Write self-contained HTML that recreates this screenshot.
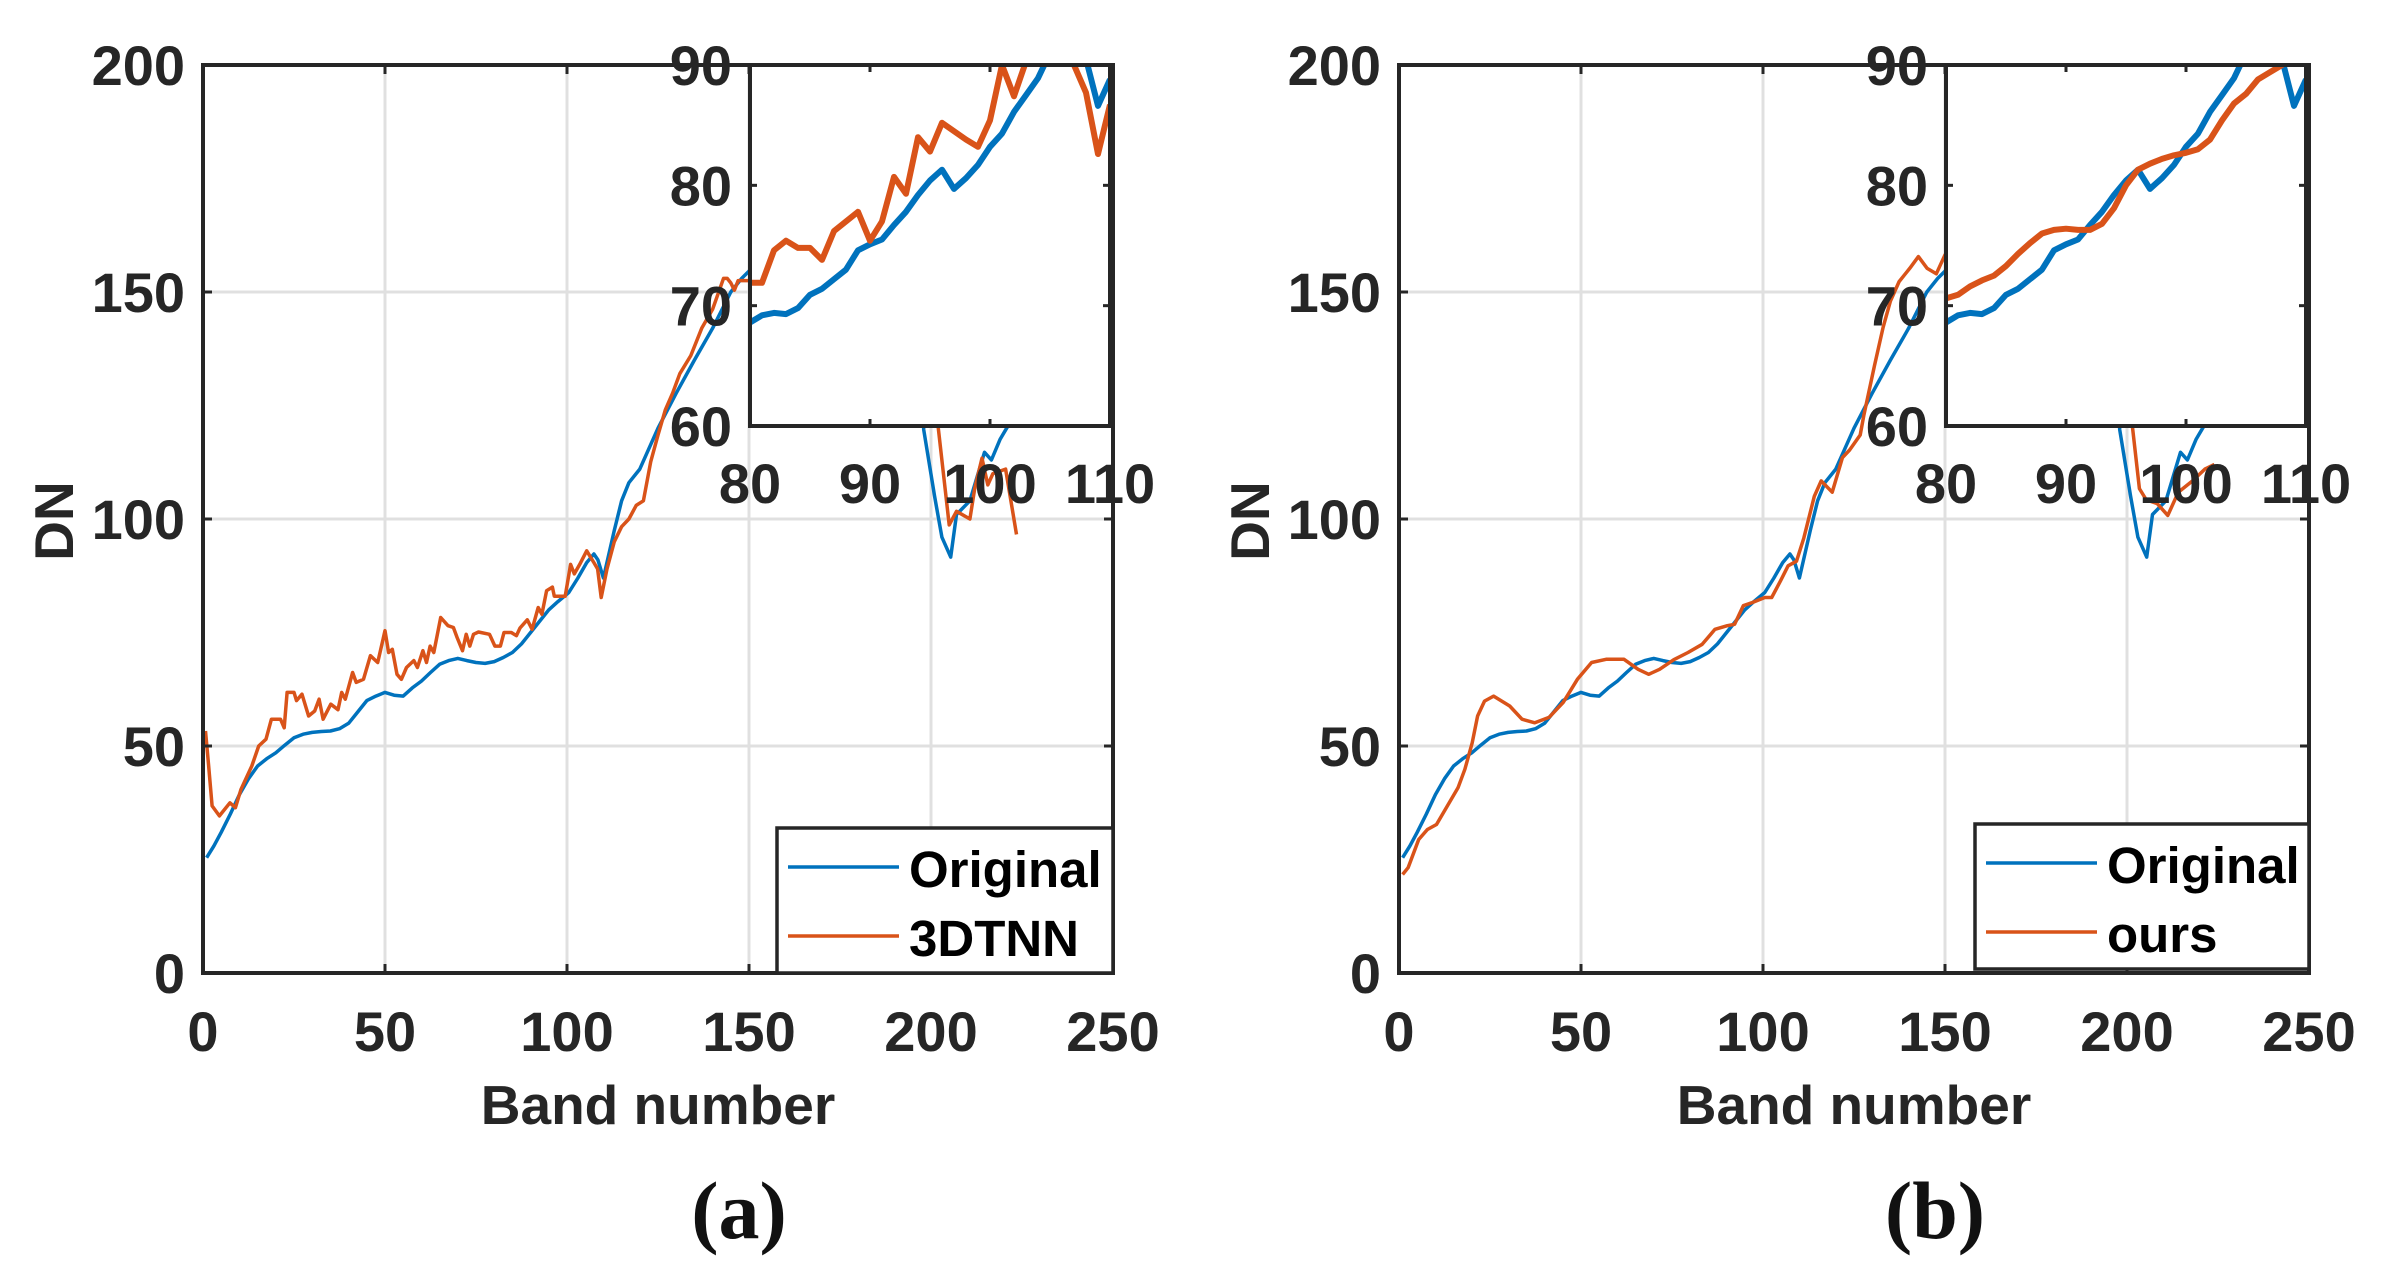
<!DOCTYPE html>
<html><head><meta charset="utf-8">
<style>
html,body{margin:0;padding:0;background:#fff;}
svg{display:block;}
text{font-family:"Liberation Sans",Arial,sans-serif;font-weight:bold;}
</style></head>
<body>
<svg id="fig" width="2384" height="1272" viewBox="0 0 2384 1272" xmlns="http://www.w3.org/2000/svg"></svg>
<script>
// ---- data ----
const origBands = [1,3,5,7.5,10,12.5,15,17.5,20,22.5,25,27.5,30,32.5,35,37.5,40,42.5,45,47.5,50,52.5,55,57.5,60,62.5,65,67.5,70,72.5,75,77.5,80,82.5,85,87.5,90,92.5,95,97.5,100.5,103,105.4,107.4,108.5,110,113,115,117,120,125,130,135,140,145,148,150,160,170,180,190,196,198,201,203,205.4,207,210.7,214.7,216.6,219,221.5,224];
const origVals  = [25.4,28,31,35,39.3,42.8,45.6,47.2,48.5,50.2,51.8,52.6,53,53.2,53.3,53.8,55,57.5,60,61,61.8,61.2,61,62.8,64.3,66.2,68,68.8,69.3,68.8,68.4,68.2,68.6,69.5,70.6,72.5,75,77.5,80,81.8,83.8,87,90.4,92.3,91,87,97.5,104,108,111,120,127.7,135,142,150,153,154.6,165,178,190,200,160,119.7,105,96,91.6,101,104,114.7,113,117.6,121,130];
const tnnBands = [0.7,1.5,2.5,4.5,7.4,8.9,10.4,13.4,15.3,17.3,18.8,21.3,22.3,23.1,25,25.7,27.2,29,30.7,31.9,33,35.1,37.1,38.1,39.1,41.1,42.1,44.1,46,48,50,51,52,53.3,54.5,55.9,57.9,58.9,60.4,61.4,62.4,63.4,65.3,67.3,68.8,69.8,71.3,72.3,73.3,74.3,75.7,78.7,80.2,81.7,82.7,84.7,86.1,87.1,89.1,90.4,92.1,93.1,94.4,96,96.5,99.5,101,102,103.5,105.4,107.4,108.4,109.4,111,113,115,117,119,121,123,125,127,129,131,134,137,140,143,144,145,146,147,150,160,170,180,190,198,202,205,207,210.7,212,214,215.6,217,220.5,223.5];
const tnnVals  = [53.3,46,36.8,34.6,37.5,36.4,40.4,45.6,50,51.5,55.9,55.9,54,61.8,61.8,60,61.4,56.6,57.7,60.3,55.9,59.2,58,61.8,60.3,66.2,64,64.7,69.9,68.4,75.4,70.6,71.3,65.8,64.7,67.3,68.8,67.3,71,68.4,72,70.6,78.3,76.5,76.1,73.9,71,74.6,72,74.6,75.1,74.6,72,72,75,75,74.3,76,77.8,75.7,80.5,79,84.2,85,83,83,90,87.9,90,93,90.4,89,82.7,89,95,98.3,100,103,104,112.6,118.5,124,127.7,132,136,142,146.2,153,153,152,150.4,152.5,152.5,165,180,195,205,160,120,98.7,101.7,100,106.7,113.4,107.5,110,111,96.6];
const oursBands = [1,2.5,5.4,7.8,10.3,12.7,16.2,18.1,20.1,21.6,23.5,26,30.4,33.8,37.3,41.2,45.1,49,52.9,56.9,61.8,65.7,68.6,71.6,75.5,79.4,83.3,86.8,90.2,92.2,94.6,97.1,100.5,102.4,104.9,106.9,109.2,111.2,114.1,116,119,121.8,123.8,126.7,127.7,130.6,133,135,137.4,140.3,142.7,145.1,147.6,150,160,170,180,190,198,201.5,203.4,205.3,208.3,211.2,214.1,218,221.4,224];
const oursVals  = [21.7,23.2,29.4,31.6,32.7,36,40.8,44.9,50.7,56.6,59.9,61,58.8,55.9,55.1,56.3,59.6,64.7,68.4,69.1,69.1,66.9,65.8,66.9,69,70.6,72.4,75.7,76.5,76.8,80.9,81.6,82.7,82.7,86.5,89.7,90.7,95.8,105,108.4,105.9,113.5,115.2,118.5,122.8,133.7,142.2,148,152.3,155.2,157.8,155.2,154,158.2,168,182,195,205,170,120.2,106.7,104.2,103.4,100.8,105.9,108.4,111,112];
// inset (bands 80..110)
const insetBands = [80,81,82,83,84,85,86,87,88,89,90,91,92,93,94,95,96,97,98,99,100,101,102,103,104,105,106,107,108,109,110];
const insetOrig  = [68.6,69.2,69.4,69.3,69.8,70.9,71.4,72.2,73.0,74.6,75.1,75.5,76.7,77.8,79.2,80.4,81.3,79.7,80.6,81.7,83.2,84.3,86.1,87.5,88.9,91,92,93,90.5,86.6,88.8];
const insetTnn   = [71.9,71.9,74.6,75.4,74.8,74.8,73.8,76.2,77.0,77.8,75.4,77.0,80.7,79.3,84.0,82.8,85.2,84.5,83.8,83.2,85.4,90.0,87.4,90.3,90.2,91,91.5,90,87.7,82.6,86.7];
const insetOurs  = [70.6,70.9,71.6,72.1,72.5,73.3,74.3,75.2,76,76.3,76.4,76.3,76.3,76.8,78.1,80,81.3,81.8,82.2,82.5,82.7,83,83.8,85.4,86.8,87.6,88.8,89.4,90,91,91.5];
const xTicks = [0,50,100,150,200,250];
const yTicks = [0,50,100,150,200];
const insetXTicks = [80,90,100,110];
const insetYTicks = [60,70,80,90];

const NS = "http://www.w3.org/2000/svg";
const svg = document.getElementById('fig');
const BLUE = "#0072BD", ORANGE = "#D95319", AX = "#262626", GRID = "#e0e0e0";
function mk(tag, attrs, parent){const e=document.createElementNS(NS,tag);for(const k in attrs)e.setAttribute(k,attrs[k]);(parent||svg).appendChild(e);return e;}
function pathFrom(xs, ys, fx, fy){let d="";const n=Math.min(xs.length,ys.length);for(let i=0;i<n;i++)d+=(i?"L":"M")+fx(xs[i]).toFixed(1)+" "+fy(ys[i]).toFixed(1);return d;}

function panel(id, x0, secondName, secondBands, secondVals, insetSecond, label, leg){
  const x1 = x0 + 910, yT = 65, yB = 973;
  const sx = b => x0 + b*(x1-x0)/250;
  const sy = v => yB - v*(yB-yT)/200;
  const g = mk('g', {});
  
  
  xTicks.forEach(t => { if (t>0 && t<250) { const l = mk('line',{x1:sx(t),x2:sx(t),y1:yT,y2:yB,stroke:GRID,'stroke-width':3},g);
      }});
  yTicks.forEach(t => { if (t>0 && t<200) { const l = mk('line',{x1:x0,x2:x1,y1:sy(t),y2:sy(t),stroke:GRID,'stroke-width':3},g);
      }});
  const cp = mk('clipPath',{id:'clip'+id},g); mk('rect',{x:x0,y:yT,width:x1-x0,height:yB-yT},cp);
  const p1 = mk('path',{d:pathFrom(origBands,origVals,sx,sy),fill:'none',stroke:BLUE,'stroke-width':3.5,'stroke-linejoin':'round','clip-path':'url(#clip'+id+')'},g);
   
  const p2 = mk('path',{d:pathFrom(secondBands,secondVals,sx,sy),fill:'none',stroke:ORANGE,'stroke-width':3.5,'stroke-linejoin':'round','clip-path':'url(#clip'+id+')'},g);
   
  xTicks.forEach(t => {
    mk('line',{x1:sx(t),x2:sx(t),y1:yB,y2:yB-9,stroke:AX,'stroke-width':3},g);
    mk('line',{x1:sx(t),x2:sx(t),y1:yT,y2:yT+9,stroke:AX,'stroke-width':3},g);
    const tx = mk('text',{x:sx(t),y:1051,'font-size':56,fill:AX,'text-anchor':'middle'},g); tx.textContent=t;
     
  });
  yTicks.forEach(t => {
    mk('line',{x1:x0,x2:x0+9,y1:sy(t),y2:sy(t),stroke:AX,'stroke-width':3},g);
    mk('line',{x1:x1,x2:x1-9,y1:sy(t),y2:sy(t),stroke:AX,'stroke-width':3},g);
    const ty = mk('text',{x:x0-18,y:sy(t)+20,'font-size':56,fill:AX,'text-anchor':'end'},g); ty.textContent=t;
     
  });
  const box = mk('rect',{x:x0,y:yT,width:x1-x0,height:yB-yT,fill:'none',stroke:AX,'stroke-width':4},g);
   
  const xt = mk('text',{x:(x0+x1)/2,y:1124,'font-size':55,fill:AX,'text-anchor':'middle'},g); xt.textContent='Band number';
   
  const yl = mk('text',{x:0,y:0,'font-size':55,fill:AX,'text-anchor':'middle',transform:'translate('+(x0-130)+',521) rotate(-90)'},g); yl.textContent='DN';
   
  const cap = mk('text',{x:(x0+x1)/2+81,y:1238,'font-size':82,fill:'#111','text-anchor':'middle',style:'font-family:"Liberation Serif",serif;font-weight:bold'},g); cap.textContent=label;
   

  const ix0 = x0 + 547, ix1 = x0 + 907, iyT = 65, iyB = 426;
  const isx = b => ix0 + (b-80)*(ix1-ix0)/30;
  const isy = v => iyB - (v-60)*(iyB-iyT)/30;
  const ig = mk('g',{},g);
   
  mk('rect',{x:ix0,y:iyT,width:ix1-ix0,height:iyB-iyT,fill:'#fff'},ig);
  const icp = mk('clipPath',{id:'iclip'+id},ig); mk('rect',{x:ix0,y:iyT,width:ix1-ix0,height:iyB-iyT},icp);
  const q1 = mk('path',{d:pathFrom(insetBands,insetOrig,isx,isy),fill:'none',stroke:BLUE,'stroke-width':6,'stroke-linejoin':'round','clip-path':'url(#iclip'+id+')'},ig);
   
  const q2 = mk('path',{d:pathFrom(insetBands,insetSecond,isx,isy),fill:'none',stroke:ORANGE,'stroke-width':6,'stroke-linejoin':'round','clip-path':'url(#iclip'+id+')'},ig);
   
  insetXTicks.forEach(t => {
    mk('line',{x1:isx(t),x2:isx(t),y1:iyB,y2:iyB-7,stroke:AX,'stroke-width':3},ig);
    mk('line',{x1:isx(t),x2:isx(t),y1:iyT,y2:iyT+7,stroke:AX,'stroke-width':3},ig);
    const tx = mk('text',{x:isx(t),y:503,'font-size':56,fill:AX,'text-anchor':'middle'},ig); tx.textContent=t;
     
  });
  insetYTicks.forEach(t => {
    mk('line',{x1:ix0,x2:ix0+7,y1:isy(t),y2:isy(t),stroke:AX,'stroke-width':3},ig);
    mk('line',{x1:ix1,x2:ix1-7,y1:isy(t),y2:isy(t),stroke:AX,'stroke-width':3},ig);
    const ty = mk('text',{x:ix0-18,y:isy(t)+20,'font-size':56,fill:AX,'text-anchor':'end'},ig); ty.textContent=t;
     
  });
  mk('rect',{x:ix0,y:iyT,width:ix1-ix0,height:iyB-iyT,fill:'none',stroke:AX,'stroke-width':4},ig);

  const lg = mk('g',{},g);
   
  mk('rect',{x:leg.x,y:leg.y,width:x1-leg.x,height:145,fill:'#fff',stroke:AX,'stroke-width':3.5},lg);
  const names = ['Original', secondName], cols=[BLUE,ORANGE];
  names.forEach((n,i) => {
    const e = mk('g',{},lg);
     
    const yy = leg.y + 39 + i*69;
    mk('line',{x1:leg.x+11,x2:leg.x+122,y1:yy,y2:yy,stroke:cols[i],'stroke-width':3.5},e);
    const t = mk('text',{x:leg.x+132,y:yy+20,'font-size':51,fill:'#000'},e); t.textContent=n;
  });
}
panel('a', 203, '3DTNN', tnnBands, tnnVals, insetTnn, '(a)', {x:777, y:828});
panel('b', 1399, 'ours', oursBands, oursVals, insetOurs, '(b)', {x:1975, y:824});
</script>
</body></html>
